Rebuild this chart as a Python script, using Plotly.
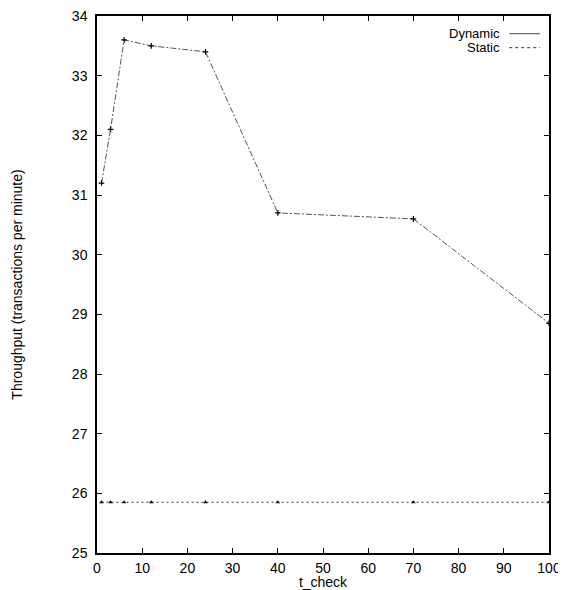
import plotly.graph_objects as go

t_check = [1, 3, 6, 12, 24, 40, 70, 100]
dynamic = [31.2, 32.1, 33.6, 33.5, 33.4, 30.7, 30.6, 28.85]
static = [25.85, 25.85, 25.85, 25.85, 25.85, 25.85, 25.85, 25.85]
x_ticks = list(range(0, 101, 10))
y_ticks = list(range(25, 35))

FONT = "Liberation Sans, Arial, Helvetica, sans-serif"

fig = go.Figure()
fig.add_trace(go.Scatter(
    x=t_check, y=dynamic, name="Dynamic", mode="lines+markers",
    line=dict(color="#555555", width=1, dash="6px,2px,2px,2px"),
    marker=dict(symbol="cross-thin", size=4, color="black", line=dict(width=1.2, color="black")),
    showlegend=False,
))
fig.add_trace(go.Scatter(
    x=t_check, y=static, name="Static", mode="lines+markers",
    line=dict(color="#333333", width=1, dash="2px,3px"),
    marker=dict(symbol="triangle-up", size=4, color="black"),
    showlegend=False,
))

axis_common = dict(
    showline=True, linecolor="black", linewidth=1.5, mirror="ticks",
    ticks="inside", ticklen=5, tickwidth=1, tickcolor="black",
    showgrid=False, zeroline=False, automargin=False,
    ticklabeloverflow="allow",
    tickfont=dict(family=FONT, size=14, color="black"),
)

fig.update_xaxes(range=[0, 100], tickvals=x_ticks, ticklabelstandoff=1,
                 title=dict(text="t_check", font=dict(family=FONT, size=14, color="black"), standoff=1),
                 **axis_common)
fig.update_yaxes(range=[25, 34], tickvals=y_ticks, ticklabelstandoff=5,
                 title=dict(text="Throughput (transactions per minute)",
                            font=dict(family=FONT, size=14, color="black"), standoff=46),
                 **axis_common)

# gnuplot-style legend (text right-aligned, line sample to the right)
legend_items = [("Dynamic", "#444444", "solid"), ("Static", "#333333", "dot")]
annotations = []
shapes = []
for i, (label, col, dash) in enumerate(legend_items):
    yp = 0.967 - i * 0.026
    annotations.append(dict(xref="paper", yref="paper", x=0.896, y=yp, text=label,
                            showarrow=False, xanchor="right", yanchor="middle",
                            font=dict(family=FONT, size=13, color="black")))
    shapes.append(dict(type="line", xref="paper", yref="paper", x0=0.912, x1=0.98,
                       y0=yp, y1=yp, line=dict(color=col, width=1, dash=dash)))

# the page body adds an 8px offset, so the figure is sized to fit the window
fig.update_layout(
    width=558, height=582,
    margin=dict(l=89, r=17, t=8, b=37),
    paper_bgcolor="white", plot_bgcolor="white",
    annotations=annotations, shapes=shapes,
    font=dict(family=FONT, size=14, color="black"),
)

fig.write_html("out.html")
